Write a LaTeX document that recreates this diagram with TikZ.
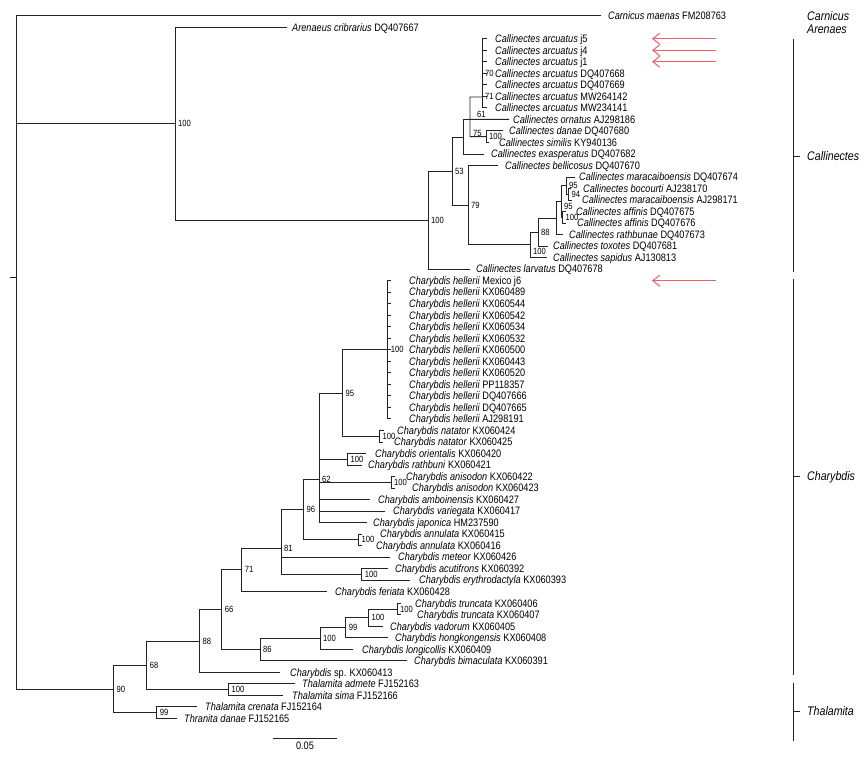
\documentclass[tikz,border=0pt]{standalone}
\usepackage{fontspec}
\setmainfont{Liberation Sans}[FakeStretch=0.85]
\usetikzlibrary{arrows.meta}
\definecolor{markred}{RGB}{232,98,108}
\definecolor{treeline}{RGB}{35,35,35}
\tikzset{
  branch/.style={treeline, line width=0.85pt},
  leaf/.style={anchor=base west, inner sep=0pt, yshift=-3.8pt, font=\fontsize{10.8}{12}\selectfont},
  boot/.style={anchor=west, inner sep=0pt, xshift=3pt, font=\fontsize{9}{10}\selectfont},
  group/.style={anchor=base west, inner sep=0pt, yshift=-4.4pt, font=\fontsize{12.5}{14}\selectfont\itshape},
  newseq/.style={markred, line width=1pt, -{Straight Barb[length=7pt,width=11pt]}},
}
% row of leaf i (pixels from the top)
\newcommand{\ry}[1]{15.7+11.52*(#1-1)}
\begin{document}
\begin{tikzpicture}[x=1pt,y=-1pt]
\useasboundingbox (0,0) rectangle (864,757);

% internal nodes, Callinectes side
\coordinate (root) at (16,277);
\coordinate (stub) at (10,277);
\coordinate (nA) at (175,123.66);
\coordinate (nB) at (428,220.1);
\coordinate (nC) at (452,171.06);
\coordinate (nD) at (463,136.97);
\coordinate (n61) at (470,119.38);
\coordinate (narc) at (482,97);
\coordinate (ndan) at (486,136.66);
\coordinate (nE) at (468,205.15);
\coordinate (nP) at (530,244.84);
\coordinate (nQ) at (538,232.06);
\coordinate (nS) at (556,218.02);
\coordinate (nT) at (561,201.46);
\coordinate (nU) at (562.5,217.3);
\coordinate (nV) at (566,185.62);
\coordinate (nW) at (568.5,194.26);

% internal nodes, Charybdis and Thalamita side
\coordinate (nTC) at (113.3,689);
\coordinate (nTh99) at (156.7,712.66);
\coordinate (nN68) at (146.7,665.34);
\coordinate (nTh100) at (228.3,689.62);
\coordinate (nN88) at (199.3,641.05);
\coordinate (nN66) at (221.7,609.76);
\coordinate (nN86) at (260,649.66);
\coordinate (nLo100) at (320,638.5);
\coordinate (nN99) at (345.7,627.7);
\coordinate (nVa100) at (368.3,617.62);
\coordinate (nTr100) at (397,608.98);
\coordinate (nN71) at (241.7,569.85);
\coordinate (nN81) at (281,548);
\coordinate (nAc100) at (361.7,574.42);
\coordinate (nN96) at (303.5,509.43);
\coordinate (nAn100) at (358.5,539.86);
\coordinate (nN62) at (319,479);
\coordinate (nOr100) at (347.5,459.22);
\coordinate (nAs100) at (391,482.26);
\coordinate (nN95) at (342.3,392.98);
\coordinate (nNat) at (379.3,436.18);
\coordinate (nHel) at (387.7,349.78);

% leaves
\coordinate (t1) at (601,{\ry{1}});
\node[leaf] (l1) at (608,{\ry{1}}) {\textit{Carnicus maenas} FM208763};
\coordinate (t2) at (287,{\ry{2}});
\node[leaf] (l2) at (292,{\ry{2}}) {\textit{Arenaeus cribrarius} DQ407667};
\foreach \i/\acc in {3/j5,4/j4,5/j1,6/DQ407668,7/DQ407669,8/MW264142,9/MW234141} {
  \coordinate (t\i) at (487,{\ry{\i}});
  \node[leaf] (l\i) at (495,{\ry{\i}}) {\textit{Callinectes arcuatus} \acc};
  \draw[branch] (narc) |- (t\i);
}
\coordinate (t10) at (509,{\ry{10}});
\node[leaf] (l10) at (513,{\ry{10}}) {\textit{Callinectes ornatus} AJ298186};
\coordinate (t11) at (503,{\ry{11}});
\node[leaf] (l11) at (509,{\ry{11}}) {\textit{Callinectes danae} DQ407680};
\coordinate (t12) at (489,{\ry{12}});
\node[leaf] (l12) at (499,{\ry{12}}) {\textit{Callinectes similis} KY940136};
\coordinate (t13) at (484,{\ry{13}});
\node[leaf] (l13) at (491,{\ry{13}}) {\textit{Callinectes exasperatus} DQ407682};
\coordinate (t14) at (498,{\ry{14}});
\node[leaf] (l14) at (505,{\ry{14}}) {\textit{Callinectes bellicosus} DQ407670};
\coordinate (t15) at (575,{\ry{15}});
\node[leaf] (l15) at (579,{\ry{15}}) {\textit{Callinectes maracaiboensis} DQ407674};
\coordinate (t16) at (571,{\ry{16}});
\node[leaf] (l16) at (583,{\ry{16}}) {\textit{Callinectes bocourti} AJ238170};
\coordinate (t17) at (572,{\ry{17}});
\node[leaf] (l17) at (582,{\ry{17}}) {\textit{Callinectes maracaiboensis} AJ298171};
\coordinate (t18) at (566,{\ry{18}});
\node[leaf] (l18) at (576,{\ry{18}}) {\textit{Callinectes affinis} DQ407675};
\coordinate (t19) at (566,{\ry{19}});
\node[leaf] (l19) at (577,{\ry{19}}) {\textit{Callinectes affinis} DQ407676};
\coordinate (t20) at (563,{\ry{20}});
\node[leaf] (l20) at (569,{\ry{20}}) {\textit{Callinectes rathbunae} DQ407673};
\coordinate (t21) at (548,{\ry{21}});
\node[leaf] (l21) at (553,{\ry{21}}) {\textit{Callinectes toxotes} DQ407681};
\coordinate (t22) at (547,{\ry{22}});
\node[leaf] (l22) at (553,{\ry{22}}) {\textit{Callinectes sapidus} AJ130813};
\coordinate (t23) at (470,{\ry{23}});
\node[leaf] (l23) at (476,{\ry{23}}) {\textit{Callinectes larvatus} DQ407678};
\foreach \i/\acc in {24/Mexico j6,25/KX060489,26/KX060544,27/KX060542,28/KX060534,29/KX060532,30/KX060500,31/KX060443,32/KX060520,33/PP118357,34/DQ407666,35/DQ407665,36/AJ298191} {
  \coordinate (t\i) at (391,{\ry{\i}});
  \node[leaf] (l\i) at (409,{\ry{\i}}) {\textit{Charybdis hellerii} \acc};
  \draw[branch] (nHel) |- (t\i);
}
\coordinate (t37) at (384,{\ry{37}});
\node[leaf] (l37) at (397,{\ry{37}}) {\textit{Charybdis natator} KX060424};
\coordinate (t38) at (383,{\ry{38}});
\node[leaf] (l38) at (394,{\ry{38}}) {\textit{Charybdis natator} KX060425};
\coordinate (t39) at (366,{\ry{39}});
\node[leaf] (l39) at (375,{\ry{39}}) {\textit{Charybdis orientalis} KX060420};
\coordinate (t40) at (362,{\ry{40}});
\node[leaf] (l40) at (368,{\ry{40}}) {\textit{Charybdis rathbuni} KX060421};
\coordinate (t41) at (395,{\ry{41}});
\node[leaf] (l41) at (406,{\ry{41}}) {\textit{Charybdis anisodon} KX060422};
\coordinate (t42) at (395,{\ry{42}});
\node[leaf] (l42) at (412,{\ry{42}}) {\textit{Charybdis anisodon} KX060423};
\coordinate (t43) at (370,{\ry{43}});
\node[leaf] (l43) at (378,{\ry{43}}) {\textit{Charybdis amboinensis} KX060427};
\coordinate (t44) at (385,{\ry{44}});
\node[leaf] (l44) at (393,{\ry{44}}) {\textit{Charybdis variegata} KX060417};
\coordinate (t45) at (367,{\ry{45}});
\node[leaf] (l45) at (373,{\ry{45}}) {\textit{Charybdis japonica} HM237590};
\coordinate (t46) at (362,{\ry{46}});
\node[leaf] (l46) at (380,{\ry{46}}) {\textit{Charybdis annulata} KX060415};
\coordinate (t47) at (362,{\ry{47}});
\node[leaf] (l47) at (376,{\ry{47}}) {\textit{Charybdis annulata} KX060416};
\coordinate (t48) at (390,{\ry{48}});
\node[leaf] (l48) at (398,{\ry{48}}) {\textit{Charybdis meteor} KX060426};
\coordinate (t49) at (388,{\ry{49}});
\node[leaf] (l49) at (395,{\ry{49}}) {\textit{Charybdis acutifrons} KX060392};
\coordinate (t50) at (410,{\ry{50}});
\node[leaf] (l50) at (419,{\ry{50}}) {\textit{Charybdis erythrodactyla} KX060393};
\coordinate (t51) at (327,{\ry{51}});
\node[leaf] (l51) at (335,{\ry{51}}) {\textit{Charybdis feriata} KX060428};
\coordinate (t52) at (401,{\ry{52}});
\node[leaf] (l52) at (415,{\ry{52}}) {\textit{Charybdis truncata} KX060406};
\coordinate (t53) at (401,{\ry{53}});
\node[leaf] (l53) at (417,{\ry{53}}) {\textit{Charybdis truncata} KX060407};
\coordinate (t54) at (383,{\ry{54}});
\node[leaf] (l54) at (390,{\ry{54}}) {\textit{Charybdis vadorum} KX060405};
\coordinate (t55) at (388,{\ry{55}});
\node[leaf] (l55) at (395,{\ry{55}}) {\textit{Charybdis hongkongensis} KX060408};
\coordinate (t56) at (353,{\ry{56}});
\node[leaf] (l56) at (362,{\ry{56}}) {\textit{Charybdis longicollis} KX060409};
\coordinate (t57) at (407,{\ry{57}});
\node[leaf] (l57) at (414,{\ry{57}}) {\textit{Charybdis bimaculata} KX060391};
\coordinate (t58) at (280,{\ry{58}});
\node[leaf] (l58) at (290,{\ry{58}}) {\textit{Charybdis} sp. KX060413};
\coordinate (t59) at (295,{\ry{59}});
\node[leaf] (l59) at (302,{\ry{59}}) {\textit{Thalamita admete} FJ152163};
\coordinate (t60) at (283,{\ry{60}});
\node[leaf] (l60) at (292,{\ry{60}}) {\textit{Thalamita sima} FJ152166};
\coordinate (t61) at (197,{\ry{61}});
\node[leaf] (l61) at (205,{\ry{61}}) {\textit{Thalamita crenata} FJ152164};
\coordinate (t62) at (177,{\ry{62}});
\node[leaf] (l62) at (184,{\ry{62}}) {\textit{Thranita danae} FJ152165};

% branches
\draw[branch] (stub) -- (root);
\draw[branch] (root) |- (t1) (root) |- (nA) (root) |- (nTC);
\draw[branch] (nA) |- (t2) (nA) |- (nB);
\draw[branch] (nB) |- (nC) (nB) |- (t23);
\draw[branch] (nC) |- (nD) (nC) |- (nE);
\draw[branch] (nD) |- (n61) (nD) |- (t13);
\draw[branch] (n61) |- (narc) (n61) -- (t10) (n61) |- (ndan);
\draw[branch] (ndan) |- (t11) (ndan) |- (t12);
\draw[branch] (nE) |- (t14) (nE) |- (nP);
\draw[branch] (nP) |- (nQ) (nP) |- (t22);
\draw[branch] (nQ) |- (nS) (nQ) |- (t21);
\draw[branch] (nS) |- (nT) (nS) |- (t20);
\draw[branch] (nT) |- (nV) (nT) |- (nU);
\draw[branch] (nV) |- (t15) (nV) |- (nW);
\draw[branch] (nW) |- (t16) (nW) |- (t17);
\draw[branch] (nU) |- (t18) (nU) |- (t19);

\draw[branch] (nTC) |- (nN68) (nTC) |- (nTh99);
\draw[branch] (nTh99) |- (t61) (nTh99) |- (t62);
\draw[branch] (nN68) |- (nN88) (nN68) |- (nTh100);
\draw[branch] (nTh100) |- (t59) (nTh100) |- (t60);
\draw[branch] (nN88) |- (nN66) (nN88) |- (t58);
\draw[branch] (nN66) |- (nN71) (nN66) |- (nN86);
\draw[branch] (nN86) |- (nLo100) (nN86) |- (t57);
\draw[branch] (nLo100) |- (nN99) (nLo100) |- (t56);
\draw[branch] (nN99) |- (nVa100) (nN99) |- (t55);
\draw[branch] (nVa100) |- (nTr100) (nVa100) |- (t54);
\draw[branch] (nTr100) |- (t52) (nTr100) |- (t53);
\draw[branch] (nN71) |- (nN81) (nN71) |- (t51);
\draw[branch] (nN81) |- (nN96) (nN81) |- (t48) (nN81) |- (nAc100);
\draw[branch] (nAc100) |- (t49) (nAc100) |- (t50);
\draw[branch] (nN96) |- (nN62) (nN96) |- (nAn100);
\draw[branch] (nAn100) |- (t46) (nAn100) |- (t47);
\draw[branch] (nN62) |- (nN95) (nN62) |- (nOr100) (nN62) |- (nAs100)
  (nN62) |- (t43) (nN62) |- (t44) (nN62) |- (t45);
\draw[branch] (nOr100) |- (t39) (nOr100) |- (t40);
\draw[branch] (nAs100) |- (t41) (nAs100) |- (t42);
\draw[branch] (nN95) |- (nHel) (nN95) |- (nNat);
\draw[branch] (nNat) |- (t37) (nNat) |- (t38);

% bootstrap values
\node[boot] (bA) at (nA) {100};
\node[boot] (bB) at (nB) {100};
\node[boot] (bC) at (nC) {53};
\node[boot] (bE) at (nE) {79};
\node[boot, yshift=-7pt] (bP) at (nP) {100};
\node[boot] (bQ) at (nQ) {88};
\node[boot, yshift=-4.5pt] (bT) at (nT) {95};
\node[boot] (bU) at (nU) {100};
\node[boot] (bV) at (nV) {95};
\node[boot] (bW) at (nW) {94};
\node[boot] (bdan) at (ndan) {100};
\node[boot] (b61) at (474,114.5) {61};
\node[boot] (b75) at (470,133) {75};
\node[boot] (b70) at (482,{\ry{6}}) {70};
\node[boot] (b71) at (482,{\ry{8}}) {71};
\node[boot] (bTC) at (nTC) {90};
\node[boot] (bTh99) at (nTh99) {99};
\node[boot] (bN68) at (nN68) {68};
\node[boot] (bTh100) at (nTh100) {100};
\node[boot] (bN88) at (nN88) {88};
\node[boot] (bN66) at (nN66) {66};
\node[boot] (bN86) at (nN86) {86};
\node[boot] (bLo100) at (nLo100) {100};
\node[boot] (bN99) at (nN99) {99};
\node[boot] (bVa100) at (nVa100) {100};
\node[boot] (bTr100) at (nTr100) {100};
\node[boot] (bN71) at (nN71) {71};
\node[boot] (bN81) at (nN81) {81};
\node[boot] (bAc100) at (nAc100) {100};
\node[boot] (bN96) at (nN96) {96};
\node[boot] (bAn100) at (nAn100) {100};
\node[boot] (bN62) at (nN62) {62};
\node[boot] (bOr100) at (nOr100) {100};
\node[boot] (bAs100) at (nAs100) {100};
\node[boot] (bN95) at (nN95) {95};
\node[boot] (bNat) at (nNat) {100};
\node[boot] (bHel) at (nHel) {100};

% new sequences
\foreach \i in {3,4,5,24} {
  \coordinate (as\i) at (716,{\ry{\i}});
  \coordinate (ae\i) at (652,{\ry{\i}});
  \draw[newseq] (as\i) -- (ae\i);
}

% genus brackets
\node[group] (gCar) at (807,16.5) {Carnicus};
\node[group] (gAre) at (807,29) {Arenaes};
\coordinate (calTop) at (793,39.5);
\coordinate (calBot) at (793,272);
\coordinate (calMid) at (793,156);
\coordinate (calTick) at (800,156);
\draw[branch] (calTop) -- (calBot) (calMid) -- (calTick);
\node[group] (gCal) at (807,156) {Callinectes};
\coordinate (chaTop) at (793,278.5);
\coordinate (chaBot) at (793,675);
\coordinate (chaMid) at (793,476.5);
\coordinate (chaTick) at (800,476.5);
\draw[branch] (chaTop) -- (chaBot) (chaMid) -- (chaTick);
\node[group] (gCha) at (807,476.5) {Charybdis};
\coordinate (thaTop) at (793,682.5);
\coordinate (thaBot) at (793,741);
\coordinate (thaMid) at (793,711.5);
\coordinate (thaTick) at (800,711.5);
\draw[branch] (thaTop) -- (thaBot) (thaMid) -- (thaTick);
\node[group] (gTha) at (807,711.5) {Thalamita};

% scale bar
\coordinate (sb1) at (273,738);
\coordinate (sb2) at (337,738);
\draw[branch] (sb1) -- (sb2);
\node[font=\fontsize{10.8}{12}\selectfont, inner sep=0pt] (sbl) at (305,746) {0.05};
\end{tikzpicture}
\end{document}
